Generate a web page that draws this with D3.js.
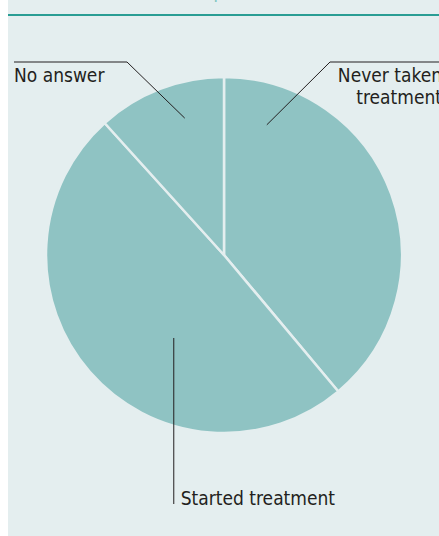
<!DOCTYPE html>
<html><head><meta charset="utf-8">
<script src="https://cdn.jsdelivr.net/npm/d3@7"></script>
<style>html,body{margin:0;padding:0;background:#fff;}svg{display:block;}</style>
</head><body>
<svg id="c" width="439" height="536"></svg>
<script>
const categories = ["Never taken treatment", "Started treatment", "No answer"];
const values = [38.9, 49.4, 11.7];
const labelLines = [["Never taken", "treatment"], ["Started treatment"], ["No answer"]];

const W = 439, H = 536;
const svg = d3.select("#c");
const font = "'Liberation Sans Narrow', 'DejaVu Sans Condensed', sans-serif";

svg.append("rect").attr("x", 8).attr("y", 0).attr("width", W - 8).attr("height", H).attr("fill", "#e4eeef");
svg.append("text").attr("x", 26).attr("y", -2).attr("fill", "#7cc5c0").attr("font-family", font)
  .attr("font-size", 18).text("Treatment status of respondents");
svg.append("line").attr("x1", 8).attr("x2", W).attr("y1", 15).attr("y2", 15)
  .attr("stroke", "#2a9d94").attr("stroke-width", 2);

const cx = 224, cy = 255, r = 178;
const pie = d3.pie().sort(null).value(d => d)(values);
const arc = d3.arc().innerRadius(0).outerRadius(r);
const g = svg.append("g").attr("transform", `translate(${cx},${cy})`);
g.selectAll("path").data(pie).join("path").attr("d", arc)
  .attr("fill", "#8fc3c3").attr("stroke", "#e4eeef").attr("stroke-width", 2.5).attr("stroke-linejoin", "round");

const txtStyle = s => s.attr("font-family", font).attr("font-size", 19).attr("fill", "#231f20");
const pt = (a, frac, rr) => {
  const ang = a.startAngle + frac * (a.endAngle - a.startAngle);
  return [cx + Math.sin(ang) * r * rr, cy - Math.cos(ang) * r * rr];
};

// Never taken treatment
{
  const [px, py] = pt(pie[0], 0.13, 0.77);
  svg.append("polyline").attr("points", `${px},${py} 330,62 ${W},62`)
    .attr("fill", "none").attr("stroke", "#231f20").attr("stroke-width", 1);
  const t = svg.append("text").attr("text-anchor", "end").call(txtStyle);
  labelLines[0].forEach((l, i) => t.append("tspan").attr("x", 442).attr("y", 82 + i * 22).text(l));
}
// Started treatment
{
  const [px, py] = pt(pie[1], 0.40, 0.545);
  svg.append("line").attr("x1", px).attr("x2", px).attr("y1", py).attr("y2", 504)
    .attr("stroke", "#231f20").attr("stroke-width", 1);
  svg.append("text").attr("x", px + 7).attr("y", 505).call(txtStyle).text(labelLines[1][0]);
}
// No answer
{
  const [px, py] = pt(pie[2], 0.62, 0.8);
  svg.append("polyline").attr("points", `14,62 127,62 ${px},${py}`)
    .attr("fill", "none").attr("stroke", "#231f20").attr("stroke-width", 1);
  svg.append("text").attr("x", 14).attr("y", 82).call(txtStyle).text(labelLines[2][0]);
}
</script>
</body></html>
